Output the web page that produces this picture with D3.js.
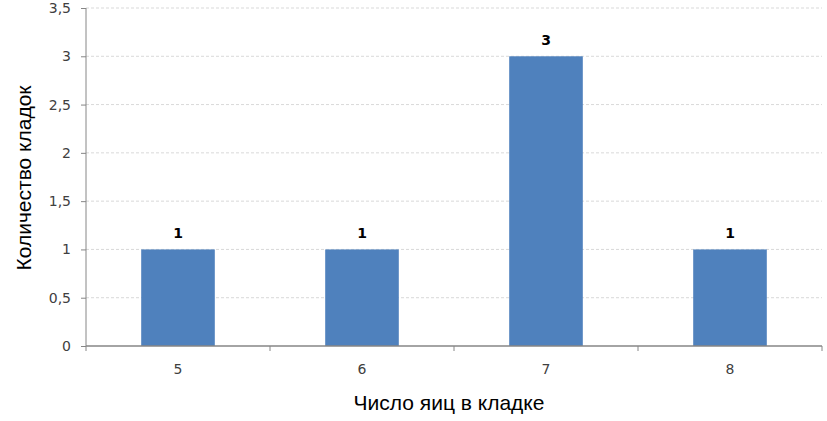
<!DOCTYPE html>
<html>
<head>
<meta charset="utf-8">
<script src="https://cdn.jsdelivr.net/npm/d3@7"></script>
<style>
  body { margin: 0; background: #fff; }
  svg { display: block; }
  .tick text { font-family: "DejaVu Sans", sans-serif; font-size: 14px; fill: #404040; }
</style>
</head>
<body>
<div id="chart"></div>
<script>
var categories = ['5', '6', '7', '8'];
var counts = [1, 1, 3, 1];
var yTicks = [0, 0.5, 1, 1.5, 2, 2.5, 3, 3.5];

var width = 827,
    height = 421,
    margin = { top: 8, right: 5, bottom: 75, left: 86 },
    innerW = width - margin.left - margin.right,
    innerH = height - margin.top - margin.bottom;

var svg = d3.select('#chart')
    .append('svg')
    .attr('width', width)
    .attr('height', height);

var g = svg.append('g')
    .attr('transform', 'translate(' + margin.left + ',' + margin.top + ')');

var x = d3.scaleBand().domain(categories).range([0, innerW]).paddingInner(0.6).paddingOuter(0.3);
var y = d3.scaleLinear().domain([0, 3.5]).range([innerH, 0]);

// grid lines
g.append('g').selectAll('line.grid')
    .data(yTicks.filter(function (d) { return d > 0; }))
    .enter()
    .append('line')
    .attr('class', 'grid')
    .attr('x1', 0)
    .attr('x2', innerW)
    .attr('y1', function (d) { return y(d); })
    .attr('y2', function (d) { return y(d); })
    .attr('stroke', '#d9d9d9')
    .attr('stroke-dasharray', '3,2');

// bars
g.append('g').selectAll('rect.bar')
    .data(counts)
    .enter()
    .append('rect')
    .attr('class', 'bar')
    .attr('x', function (d, i) { return x(categories[i]); })
    .attr('y', function (d) { return y(d); })
    .attr('width', x.bandwidth())
    .attr('height', function (d) { return innerH - y(d); })
    .attr('fill', '#4f81bd');

// value labels
g.append('g').selectAll('text.val')
    .data(counts)
    .enter()
    .append('text')
    .attr('class', 'val')
    .attr('x', function (d, i) { return x(categories[i]) + x.bandwidth() / 2; })
    .attr('y', function (d) { return y(d) - 11; })
    .attr('text-anchor', 'middle')
    .style('font-family', '"DejaVu Sans", sans-serif')
    .style('font-size', '14px')
    .style('font-weight', 'bold')
    .style('fill', '#000')
    .text(function (d) { return d; });

// y axis
var yAxis = d3.axisLeft(y)
    .tickValues(yTicks)
    .tickSize(5)
    .tickPadding(10)
    .tickFormat(function (d) { return String(d).replace('.', ','); });

var yg = g.append('g').call(yAxis);
yg.select('.domain').attr('stroke', '#868686').attr('d', 'M0,' + innerH + 'V0');
yg.selectAll('.tick line').attr('stroke', '#868686');

// x axis: ticks at band boundaries, labels at band centres
var xg = g.append('g').attr('transform', 'translate(0,' + innerH + ')');
xg.append('line')
    .attr('x1', 0).attr('x2', innerW)
    .attr('stroke', '#868686').attr('stroke-width', 1.5);

var bounds = d3.range(categories.length + 1).map(function (i) { return i * x.step(); });
xg.selectAll('line.xt')
    .data(bounds)
    .enter()
    .append('line')
    .attr('class', 'xt')
    .attr('x1', function (d) { return d; })
    .attr('x2', function (d) { return d; })
    .attr('y1', 0).attr('y2', 5)
    .attr('stroke', '#868686');

xg.selectAll('text.xl')
    .data(categories)
    .enter()
    .append('text')
    .attr('class', 'xl')
    .attr('x', function (d) { return x(d) + x.bandwidth() / 2; })
    .attr('y', 28)
    .attr('text-anchor', 'middle')
    .style('font-family', '"DejaVu Sans", sans-serif')
    .style('font-size', '14px')
    .style('fill', '#404040')
    .text(function (d) { return d; });

// axis titles
svg.append('text')
    .attr('x', 449)
    .attr('y', 410)
    .attr('text-anchor', 'middle')
    .style('font-family', '"Liberation Sans", Arial, sans-serif')
    .style('font-size', '21px')
    .style('fill', '#000')
    .text('Число яиц в кладке');

svg.append('text')
    .attr('transform', 'translate(31,178) rotate(-90)')
    .attr('text-anchor', 'middle')
    .style('font-family', '"Liberation Sans", Arial, sans-serif')
    .style('font-size', '21px')
    .style('fill', '#000')
    .text('Количество кладок');
</script>
</body>
</html>
